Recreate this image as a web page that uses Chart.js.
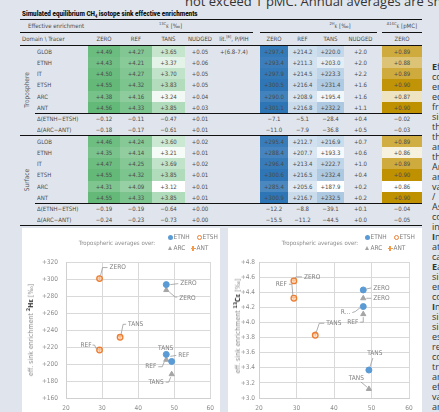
<!DOCTYPE html>
<html><head><meta charset="utf-8">
<script src="https://cdn.jsdelivr.net/npm/chart.js@4.4.1/dist/chart.umd.min.js"></script>
<style>
html,body{margin:0;padding:0;}
body{width:439px;height:412px;overflow:hidden;background:#e0e5ed;position:relative;font-family:"Liberation Sans Narrow","DejaVu Sans Condensed","Roboto",sans-serif;color:#555;}
.abs{position:absolute;white-space:nowrap;}
.cell{position:absolute;white-space:nowrap;text-align:center;font-size:6px;color:#4a4a4a;overflow:hidden;}
.line{position:absolute;background:#111;}
sup{font-size:4px;vertical-align:3px;line-height:0;}
.panel{position:absolute;background:#fff;}
.leg{position:absolute;white-space:nowrap;font-size:6.5px;color:#7f7f7f;line-height:8px;}
.ytitle{position:absolute;white-space:nowrap;font-size:7px;color:#8c8c8c;transform:translate(-50%,-50%) rotate(-90deg);}
.ytitle b{color:#333;}
#para{position:absolute;left:432px;top:62px;font-family:"Open Sans","Noto Sans",sans-serif;font-size:9px;line-height:10px;color:#333;white-space:nowrap;}
</style></head>
<body>
<div class="abs" style="left:185px;top:-5px;font-family:'Open Sans','Noto Sans',sans-serif;font-size:13px;line-height:13px;color:#333;">not exceed 1 pMC. Annual averages are shown</div>
<div class="abs" style="left:22px;top:10px;font-family:'Roboto','Liberation Sans',sans-serif;font-weight:900;font-size:7px;line-height:8px;color:#111;transform:scaleX(0.9);transform-origin:0 0;">Simulated equilibrium CH<sub style="font-size:4.5px">4</sub> isotope sink effective enrichments</div>
<div id="tbl"></div>
<div id="para"></div>

<div class="panel" style="left:22px;top:228px;width:198px;height:184px;"><canvas id="c1" width="198" height="184"></canvas></div>
<div class="panel" style="left:228px;top:228px;width:194px;height:184px;"><canvas id="c2" width="194" height="184"></canvas></div>
<div class="ytitle" style="left:31px;top:330px;">eff. sink enrichment <b><sup style="font-size:5px">2</sup>Hε</b> [‰]</div>
<div class="ytitle" style="left:238px;top:326px;">eff. sink enrichment <b><sup style="font-size:5px">13</sup>Cε</b> [‰]</div>
<div id="legends"></div>

<script>
// ---------- table data ----------
const domains = ['Troposphere', 'Surface'];
const rowLabels = ['GLOB', 'ETNH', 'IT', 'ETSH', 'ARC', 'ANT'];
const deltaLabels = ['Δ(ETNH−ETSH)', 'Δ(ARC−ANT)'];
const tracersC13 = ['ZERO', 'REF', 'TANS', 'NUDGED'];
const tracersH2 = ['ZERO', 'REF', 'TANS', 'NUDGED'];
const tracersC14 = ['ZERO'];
const litGLOB = '+(6.8-7.4)';

const tropC13 = [[4.49,4.27,3.65,0.05],[4.43,4.21,3.37,0.06],[4.50,4.27,3.70,0.05],[4.55,4.32,3.83,0.05],[4.38,4.16,3.24,0.04],[4.56,4.33,3.85,0.03]];
const tropH2 = [[297.4,214.2,220.0,2.0],[293.4,211.3,203.0,2.0],[297.9,214.5,223.3,2.2],[300.5,216.4,231.4,1.6],[290.0,208.9,195.4,1.6],[301.1,216.8,232.2,1.1]];
const tropC14 = [0.889,0.880,0.889,0.898,0.868,0.899];
const tropDC13 = [[-0.12,-0.11,-0.47,0.01],[-0.18,-0.17,-0.61,0.01]];
const tropDH2 = [[-7.1,-5.1,-28.4,0.4],[-11.0,-7.9,-36.8,0.5]];
const tropDC14 = [-0.02,-0.03];

const surfC13 = [[4.46,4.24,3.60,0.02],[4.35,4.14,3.21,0.01],[4.47,4.25,3.69,0.02],[4.55,4.32,3.85,0.01],[4.31,4.09,3.12,0.01],[4.55,4.33,3.85,0.01]];
const surfH2 = [[295.4,212.7,216.9,0.7],[288.4,207.7,193.3,0.6],[296.4,213.4,222.7,1.0],[300.6,216.5,232.4,0.4],[285.4,205.6,187.9,0.2],[300.9,216.7,232.5,0.2]];
const surfC14 = [0.888,0.863,0.889,0.899,0.858,0.899];
const surfDC13 = [[-0.19,-0.19,-0.64,0.00],[-0.24,-0.23,-0.73,0.00]];
const surfDH2 = [[-12.2,-8.8,-39.1,0.1],[-15.5,-11.2,-44.5,0.0]];
const surfDC14 = [-0.04,-0.05];

// ---------- chart data ----------
const caseNames = ['ZERO', 'REF', 'TANS'];
const xETNH = [47.8, 47.8, 49.3];
const xETSH = [29.3, 29.3, 35.0];
const xARC = [47.8, 47.8, 49.3];
const xANT = [29.3, 29.3, 35.0];
const h2ETNH = [293.4, 211.3, 203.0];
const h2ETSH = [300.5, 216.4, 231.4];
const h2ARC = [287.0, 205.0, 188.0];
const h2ANT = [301.1, 216.8, 232.2];
const c13ETNH = [4.43, 4.21, 3.37];
const c13ETSH = [4.55, 4.32, 3.83];
const c13ARC = [4.32, 4.11, 3.12];
const c13ANT = [4.56, 4.33, 3.85];
const xTicks = [20, 30, 40, 50, 60];
const h2Ticks = [160, 180, 200, 220, 240, 260, 280, 300, 320];
const c13Ticks = [3.0, 3.2, 3.4, 3.6, 3.8, 4.0, 4.2, 4.4, 4.6, 4.8];
const legendNames = ['ETNH', 'ETSH', 'ARC', 'ANT'];

// ---------- helpers ----------
function fmt(v, d) { return (v < 0 ? '−' : '+') + Math.abs(v).toFixed(d); }
function shade(end, v, lo, hi) {
  const f = Math.max(0, Math.min(1, (v - lo) / (hi - lo)));
  const c = end.map(e => Math.round(255 + (e - 255) * f));
  return 'rgb(' + c.join(',') + ')';
}
const GREEN = [99,185,120], BLUE = [46,117,182], GOLD = [191,144,0];
const allC13 = tropC13.concat(surfC13).flatMap(r => r.slice(0,3));
const allH2 = tropH2.concat(surfH2).flatMap(r => r.slice(0,3));
const allC14 = tropC14.concat(surfC14);
const c13lo = Math.min(...allC13), c13hi = Math.max(...allC13);
const h2lo = Math.min(...allH2), h2hi = Math.max(...allH2);
const c14lo = Math.min(...allC14), c14hi = Math.max(...allC14);

const tbl = document.getElementById('tbl');
function cell(x, y, w, h, html, bg, align, extra) {
  const d = document.createElement('div');
  d.className = 'cell';
  d.style.left = x + 'px'; d.style.top = y + 'px';
  d.style.width = w + 'px'; d.style.height = h + 'px';
  d.style.lineHeight = h + 'px';
  if (bg) d.style.background = bg;
  if (align) d.style.textAlign = align;
  if (extra) Object.assign(d.style, extra);
  d.innerHTML = html;
  tbl.appendChild(d);
}
function hline(x1, x2, y, t) {
  const d = document.createElement('div');
  d.className = 'line';
  d.style.left = x1 + 'px'; d.style.width = (x2 - x1) + 'px';
  d.style.top = (y - t / 2) + 'px'; d.style.height = t + 'px';
  tbl.appendChild(d);
}

const colC13 = [[88,32],[120,32],[152,33],[185,30]];
const colLit = [215,38];
const colH2 = [[260,28],[288,29],[317,27],[344,33]];
const colC14 = [382,40];

// headers
cell(28, 20, 60, 12, 'Effective enrichment', null, 'left');
cell(88, 20, 165, 12, '<sup>13C</sup>ε [‰]');
cell(325, 20, 30, 12, '<sup>2H</sup>ε [‰]');
cell(382, 20, 40, 12, '<sup>Δ14C</sup>ε [pMC]');
cell(22, 33, 66, 12, 'Domain \\ Tracer', null, 'left');
tracersC13.forEach((t, j) => cell(colC13[j][0], 33, colC13[j][1], 12, t));
cell(colLit[0], 33, colLit[1], 12, 'lit.<sup>[6]</sup>, P/PIH');
tracersH2.forEach((t, j) => cell(colH2[j][0], 33, colH2[j][1], 12, t));
cell(colC14[0], 33, colC14[1], 12, tracersC14[0]);

function block(name, C13, H2, C14, DC13, DH2, DC14, y0, yd) {
  const rh = 11.25;
  rowLabels.forEach((lab, r) => {
    const y = y0 + r * rh;
    cell(37, y, 50, rh, lab, null, 'left');
    C13[r].forEach((v, j) => cell(colC13[j][0], y, colC13[j][1], rh, fmt(v, 2), j < 3 ? shade(GREEN, v, c13lo, c13hi) : null));
    if (name === 'Troposphere' && r === 0) cell(colLit[0], y, colLit[1], rh, litGLOB);
    H2[r].forEach((v, j) => cell(colH2[j][0], y, colH2[j][1], rh, fmt(v, 1), j < 3 ? shade(BLUE, v, h2lo, h2hi) : null));
    cell(colC14[0], y, colC14[1], rh, fmt(C14[r], 2), shade(GOLD, C14[r], c14lo, c14hi));
  });
  deltaLabels.forEach((lab, r) => {
    const y = yd + r * 11;
    cell(37, y, 50, 11, lab, null, 'left');
    DC13[r].forEach((v, j) => cell(colC13[j][0], y, colC13[j][1], 11, fmt(v, 2)));
    DH2[r].forEach((v, j) => cell(colH2[j][0], y, colH2[j][1], 11, fmt(v, 1)));
    cell(colC14[0], y, colC14[1], 11, fmt(DC14[r], 2));
  });
  const mid = (y0 + yd + 22) / 2;
  const d = document.createElement('div');
  d.className = 'abs';
  d.style.cssText = 'left:27px;top:' + mid + 'px;font-size:6.5px;color:#555;transform:translate(-50%,-50%) rotate(-90deg);';
  d.textContent = name;
  tbl.appendChild(d);
}
block(domains[0], tropC13, tropH2, tropC14, tropDC13, tropDH2, tropDC14, 45.5, 113);
block(domains[1], surfC13, surfH2, surfC14, surfDC13, surfDH2, surfDC14, 135.5, 203);

hline(20, 422, 19.3, 1.5);
hline(20, 253, 32.3, 0.7); hline(260, 377, 32.3, 0.7); hline(382, 422, 32.3, 0.7);
hline(20, 422, 45.2, 1);
hline(35, 422, 113, 0.7);
hline(20, 422, 135.2, 1.2);
hline(35, 422, 203, 0.7);
hline(20, 422, 225.3, 1.2);

// right-side paragraph (cut off by the window edge)
const paraLines = ['<b>E</b>ffective','conditions','enrichment','equilibrium','from','sink','the','the','and','the','Annual','are','values','/','As','contributions','in','<b>I</b>n','at','can','<b>E</b>ach','sink','enrichment','combined','<b>I</b>n','simulations','sinks','estimated','reaction','contributions','troposphere','and','effective','values','and'];
document.getElementById('para').innerHTML = paraLines.join('<br>');

// ---------- legends ----------
const lg = document.getElementById('legends');
function legend(ox, titleCx) {
  const cols = ['#5b9bd5', '#ed7d31', '#a5a5a5', '#f09c4c'];
  let h = '<div class="leg" style="left:' + (titleCx - 40) + 'px;width:80px;text-align:center;top:239px;font-size:6px;color:#8c8c8c;">Tropospheric averages over:</div>';
  const pos = [[ox, 237], [ox + 29, 237], [ox, 248], [ox + 23, 248]];
  legendNames.forEach((n, i) => {
    const [x, y] = pos[i];
    let m;
    if (i === 0) m = '<div style="position:absolute;left:' + (x - 2.5) + 'px;top:' + (y - 2.5) + 'px;width:5px;height:5px;border-radius:50%;background:' + cols[0] + '"></div>';
    else if (i === 1) m = '<div style="position:absolute;left:' + (x - 2.5) + 'px;top:' + (y - 2.5) + 'px;width:3px;height:3px;border-radius:50%;border:1px solid ' + cols[1] + '"></div>';
    else if (i === 2) m = '<div style="position:absolute;left:' + (x - 2.5) + 'px;top:' + (y - 2.5) + 'px;width:0;height:0;border-left:2.5px solid transparent;border-right:2.5px solid transparent;border-bottom:4.5px solid ' + cols[2] + '"></div>';
    else m = '<div style="position:absolute;left:' + (x - 2.5) + 'px;top:' + (y - 0.5) + 'px;width:5px;height:1.2px;background:' + cols[3] + '"></div><div style="position:absolute;left:' + (x - 0.6) + 'px;top:' + (y - 2.5) + 'px;width:1.2px;height:5px;background:' + cols[3] + '"></div>';
    h += m + '<div class="leg" style="left:' + (x + 3.5) + 'px;top:' + (y - 4) + 'px;">' + n + '</div>';
  });
  lg.insertAdjacentHTML('beforeend', h);
}
legend(170, 117);
legend(367, 320);

// ---------- charts ----------
const FONT = '"Liberation Sans Narrow","DejaVu Sans Condensed","Roboto",sans-serif';
Chart.defaults.font.family = FONT;

const labelPlugin = {
  id: 'pointLabels',
  afterDatasetsDraw(chart, args, opts) {
    const ctx = chart.ctx;
    ctx.save();
    ctx.font = '6.5px ' + FONT;
    ctx.fillStyle = '#7f7f7f';
    ctx.strokeStyle = '#9a9a9a';
    ctx.lineWidth = 0.8;
    ctx.textBaseline = 'middle';
    (opts.items || []).forEach(a => {
      const el = chart.getDatasetMeta(a.ds).data[a.i];
      const px = el.x, py = el.y;
      if (a.pts && a.pts.length) {
        ctx.beginPath();
        ctx.moveTo(px + a.pts[0][0], py + a.pts[0][1]);
        for (let k = 1; k < a.pts.length; k++) ctx.lineTo(px + a.pts[k][0], py + a.pts[k][1]);
        ctx.stroke();
      }
      ctx.textAlign = a.align || 'left';
      ctx.fillText(a.text || caseNames[a.i], px + a.tx, py + a.ty);
    });
    ctx.restore();
  }
};

function makeChart(id, ys, yTicks, yDec, labels, padRight, yWidth, yPad) {
  const mk = (xs, vals) => xs.map((x, i) => ({ x: x, y: vals[i] }));
  return new Chart(document.getElementById(id), {
    type: 'scatter',
    data: {
      datasets: [
        { label: legendNames[0], data: mk(xETNH, ys[0]), pointStyle: 'circle', pointRadius: 3, backgroundColor: '#5b9bd5', borderColor: '#5b9bd5', borderWidth: 1 },
        { label: legendNames[1], data: mk(xETSH, ys[1]), pointStyle: 'circle', pointRadius: 2.8, backgroundColor: 'rgba(250,210,180,0.6)', borderColor: '#ed7d31', borderWidth: 1.3 },
        { label: legendNames[2], data: mk(xARC, ys[2]), pointStyle: 'triangle', pointRadius: 3, backgroundColor: '#a5a5a5', borderColor: '#a5a5a5', borderWidth: 1 },
        { label: legendNames[3], data: mk(xANT, ys[3]), pointStyle: 'cross', pointRadius: 2.5, backgroundColor: '#f09c4c', borderColor: '#f09c4c', borderWidth: 1 }
      ]
    },
    options: {
      responsive: false, animation: false, devicePixelRatio: 1,
      layout: { padding: { top: 34, right: padRight, left: 0, bottom: 0 } },
      plugins: { legend: { display: false }, tooltip: { enabled: false }, pointLabels: { items: labels } },
      scales: {
        x: {
          type: 'linear', min: xTicks[0], max: xTicks[xTicks.length - 1],
          afterBuildTicks: s => { s.ticks = xTicks.map(v => ({ value: v })); },
          afterFit: s => { s.height = 14; },
          grid: { color: '#d9d9d9', drawTicks: false },
          border: { color: '#d0d0d0' },
          ticks: { padding: 6, color: '#8c8c8c', font: { size: 6.5 }, maxRotation: 0, autoSkip: false }
        },
        y: {
          type: 'linear', min: yTicks[0], max: yTicks[yTicks.length - 1],
          afterBuildTicks: s => { s.ticks = yTicks.map(v => ({ value: v })); },
          afterFit: s => { s.width = yWidth; },
          grid: { color: '#d9d9d9', drawTicks: false },
          border: { color: '#d0d0d0' },
          ticks: { padding: yPad, color: '#8c8c8c', font: { size: 6.5 }, autoSkip: false, callback: v => fmt(v, yDec) }
        }
      }
    },
    plugins: [labelPlugin]
  });
}

const labels1 = [
  { ds: 1, i: 0, tx: 10, ty: -11, pts: [[1,-3],[3,-11],[8,-11]] },
  { ds: 0, i: 0, tx: 14, ty: -1, pts: [[4,0],[12,-1]] },
  { ds: 2, i: 0, tx: 13, ty: 8, pts: [[3,2],[9,7],[11,7]] },
  { ds: 1, i: 2, tx: 8, ty: -13, pts: [[1,-3],[3,-13],[6,-13]] },
  { ds: 1, i: 1, tx: -8, ty: -5, align: 'right', pts: [[-3,-1],[-5,-5],[-7,-5]] },
  { ds: 0, i: 2, tx: -6, ty: -13, align: 'center', pts: [] },
  { ds: 0, i: 1, tx: 12, ty: 1, pts: [[4,2],[10,1]] },
  { ds: 2, i: 1, tx: -10, ty: 7, align: 'right', pts: [[-2,2],[-4,7],[-8,7]] },
  { ds: 2, i: 2, tx: -8, ty: 8, align: 'right', pts: [[-1,3],[-3,8],[-6,8]] }
];
const labels2 = [
  { ds: 1, i: 0, tx: 10, ty: -4, pts: [[1,-2],[2,-4],[8,-4]] },
  { ds: 1, i: 1, tx: -7, ty: -14, align: 'right', pts: [[-1,-3],[-2,-14],[-5,-14]] },
  { ds: 0, i: 0, tx: 10, ty: -2, pts: [[3,-1],[8,-2]] },
  { ds: 2, i: 0, tx: 10, ty: 0, pts: [[3,0],[8,0]] },
  { ds: 1, i: 2, tx: 11, ty: -12, pts: [[1,-3],[4,-12],[9,-12]] },
  { ds: 0, i: 1, text: 'R...', tx: -13, ty: 6, align: 'right', pts: [[-3,1],[-8,5],[-11,6]] },
  { ds: 2, i: 1, tx: -5, ty: 8, align: 'right', pts: [[0,3],[0,8],[-3,8]] },
  { ds: 0, i: 2, tx: 6, ty: -17, align: 'center', pts: [[1,-3],[4,-12]] },
  { ds: 2, i: 2, tx: -5, ty: -11, align: 'right', pts: [[-2,-2],[-8,-7]] }
];

makeChart('c1', [h2ETNH, h2ETSH, h2ARC, h2ANT], h2Ticks, 0, labels1, 7, 44, 8);
makeChart('c2', [c13ETNH, c13ETSH, c13ARC, c13ANT], c13Ticks, 1, labels2, 13, 31, 4);
</script>
</body></html>
